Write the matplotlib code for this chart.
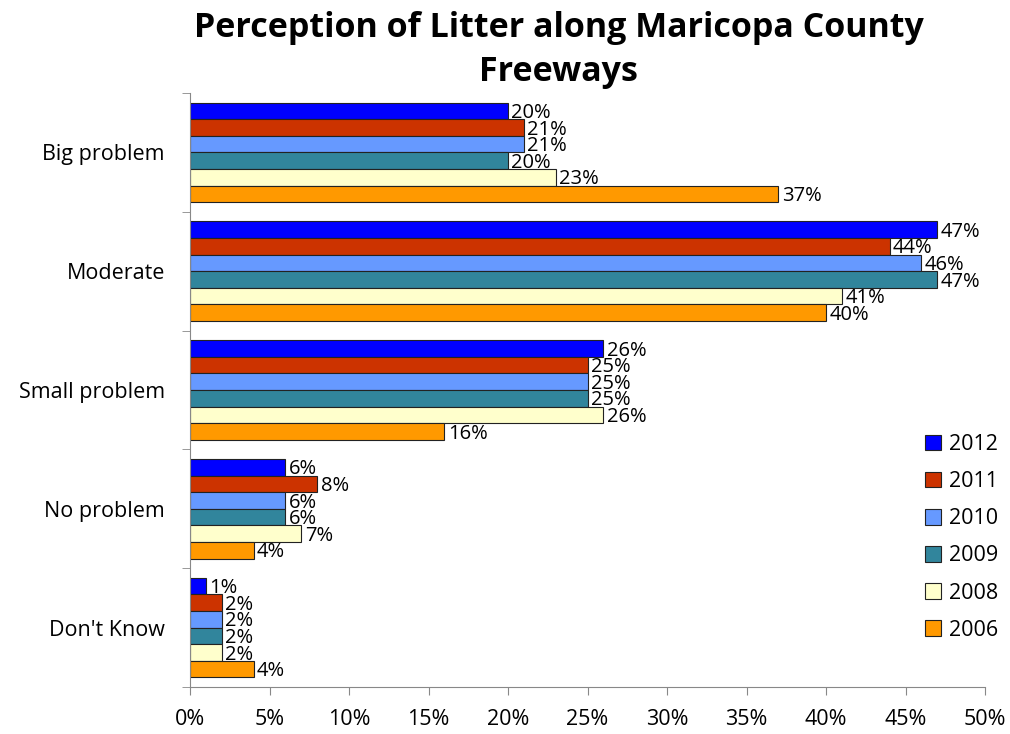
import matplotlib.pyplot as plt
import numpy as np

categories = ["Big problem", "Moderate", "Small problem", "No problem", "Don't Know"]
years = ["2012", "2011", "2010", "2009", "2008", "2006"]
colors = ["#0000FF", "#CC3300", "#6699FF", "#31859C", "#FFFFCC", "#FF9900"]

# percent values per year, in category order
v2012 = [20, 47, 26, 6, 1]
v2011 = [21, 44, 25, 8, 2]
v2010 = [21, 46, 25, 6, 2]
v2009 = [20, 47, 25, 6, 2]
v2008 = [23, 41, 26, 7, 2]
v2006 = [37, 40, 16, 4, 4]
series = [v2012, v2011, v2010, v2009, v2008, v2006]

plt.rcParams["font.family"] = ["Open Sans", "DejaVu Sans"]

fig = plt.figure(figsize=(10.1, 7.34), dpi=100)
ax = fig.add_axes([190 / 1010, 1 - 687 / 734, 795 / 1010, 594 / 734])

n = len(categories)
bh = 0.14
ypos = np.arange(n)
for i, (vals, col, yr) in enumerate(zip(series, colors, years)):
    y = ypos - 2.5 * bh + i * bh
    ax.barh(y, vals, height=bh, color=col, edgecolor="#222222", linewidth=0.8, label=yr)
    for yy, v in zip(y, vals):
        ax.annotate(f"{v}%", (v, yy), xytext=(2.5, -1.5), textcoords="offset points",
                    va="center", ha="left", fontsize=14.5)

ax.set_ylim(n - 0.5, -0.5)
ax.set_xlim(0, 50)
ax.set_xticks(np.arange(0, 51, 5))
ax.set_xticklabels([f"{t}%" for t in range(0, 51, 5)], fontsize=15.5)
ax.set_yticks(ypos)
ax.set_yticklabels(categories, fontsize=15.5)
ax.set_yticks(np.arange(-0.5, n, 1), minor=True)
ax.tick_params(axis="y", which="major", length=0, pad=18)
ax.tick_params(axis="y", which="minor", length=6, color="#888888", direction="out")
ax.tick_params(axis="x", length=6, color="#888888", direction="out", pad=10)
for s in ["top", "right"]:
    ax.spines[s].set_visible(False)
for s in ["left", "bottom"]:
    ax.spines[s].set_color("#888888")

ax.legend(loc="center left", bbox_to_anchor=(0.9, 0.252), frameon=False, fontsize=15.5,
          handlelength=0.75, handleheight=0.75, labelspacing=0.75, handletextpad=0.35)

fig.suptitle("Perception of Litter along Maricopa County\nFreeways", fontsize=24.5,
             fontweight="bold", y=0.985, x=0.553, linespacing=1.4)

fig.savefig("out.png", dpi=100)
